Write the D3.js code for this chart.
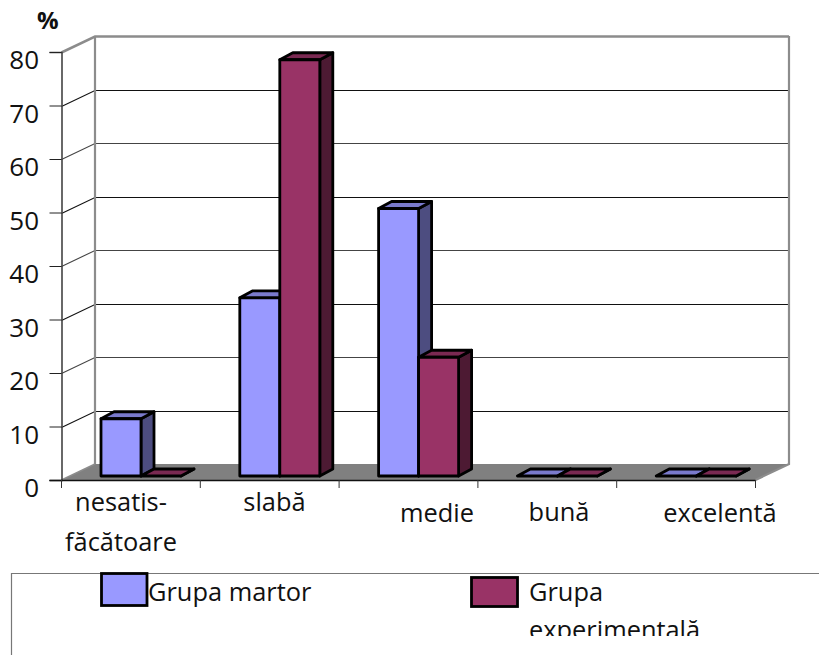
<!DOCTYPE html>
<html><head><meta charset="utf-8">
<script src="https://cdnjs.cloudflare.com/ajax/libs/d3/7.8.5/d3.min.js"></script>
<style>html,body{margin:0;padding:0;background:#fff}svg{display:block}text{font-family:"Open Sans",sans-serif;fill:#111}</style>
</head><body><svg id="c" width="819" height="655"></svg>
<script>
const categories = ["nesatis-|făcătoare","slabă","medie","bună","excelentă"];
const martor = [10.7,33.3,50,0,0];
const experimentala = [0,77.8,22.2,0,0];
const seriesNames = ["Grupa martor","Grupa experimentală"];
const yTicks = [0,10,20,30,40,50,60,70,80];

const svg = d3.select("#c");
const L=61.5,R=755.5,T=52,B=480,DX=33.5,DY=16;
const BW=13,BH=7,BASE=4;
const x = d3.scaleBand().domain(categories).range([L,R]);
const inner = d3.scaleBand().domain([0,1]).range([39.5,119.5]);
const y = d3.scaleLinear().domain([0,80]).range([B,T]);
const colors = [
 {f:"#9999ff",top:"#7a7acc",side:"#4d4d80"},
 {f:"#993366",top:"#7a2952",side:"#4d1a33"}];

// floor
svg.append("path").attr("fill","#808080")
 .attr("d",`M${L},${B}L${L+DX},${B-DY}L${R+DX},${B-DY}L${R},${B}Z`);
// gridlines
yTicks.filter(t=>t>0).forEach(t=>{
  const yy=Math.round(y(t))+.5, top=t===80;
  svg.append("path").attr("fill","none")
   .attr("stroke",top?"#8c8c8c":(t%20===0?"#444":"#111"))
   .attr("stroke-width",top?2.5:1.1)
   .attr("d",`M${L},${yy}L${L+DX},${yy-DY}L${R+DX},${yy-DY}`);
});
// walls
svg.append("path").attr("fill","none").attr("stroke","#8c8c8c").attr("stroke-width",2.2)
 .attr("d",`M${L+DX},${T-DY}V${B-DY}M${R+DX},${T-DY}V${B-DY}L${R},${B}`);
svg.append("path").attr("fill","none").attr("stroke","#8c8c8c").attr("stroke-width",1.4)
 .attr("d",`M${L+DX},${B-DY}L${L},${B}`);
// axes
const yAxis=d3.axisLeft(y).tickValues(yTicks).tickSize(12).tickPadding(4);
const gy=svg.append("g").attr("transform",`translate(${L},0)`).call(yAxis);
gy.select(".domain").attr("stroke","#444").attr("stroke-width",1.6);
gy.selectAll(".tick line").attr("stroke","#222");
gy.selectAll(".tick text").style("font-size","26px").attr("x",-22.5).attr("dy",null)
 .attr("y",16.5).attr("text-anchor","end");
const edges=d3.range(categories.length+1).map(i=>L+i*x.step());
svg.append("line").attr("x1",L-12).attr("x2",R).attr("y1",B+.5).attr("y2",B+.5).attr("stroke","#111").attr("stroke-width",1.3);
svg.selectAll(".xt").data(edges).join("line").attr("x1",d=>d).attr("x2",d=>d)
 .attr("y1",B).attr("y2",B+8).attr("stroke","#333");

// bars
[martor,experimentala].forEach((vals,s)=>{
 const c=colors[s];
 const g=svg.append("g").selectAll("g").data(vals).join("g");
 g.each(function(v,i){
  const X=x(categories[i])+inner(s), W=inner.bandwidth();
  const b=y(0)-BASE, t=y(v)-BASE, n=d3.select(this);
  const st={stroke:"#000","stroke-width":2.8,"stroke-linejoin":"round"};
  const add=(d,f)=>{const p=n.append("path").attr("d",d).attr("fill",f);for(const k in st)p.attr(k,st[k]);};
  add(`M${X+W},${t}L${X+W+BW},${t-BH}V${b-BH}L${X+W},${b}Z`,c.side);
  add(`M${X},${t}L${X+BW},${t-BH}H${X+W+BW}L${X+W},${t}Z`,c.top);
  if(v>0) add(`M${X},${t}H${X+W}V${b}H${X}Z`,c.f);
 });
});

// labels
const fs=25.4;
svg.append("text").text("%").attr("x",37).attr("y",29).style("font-size","24px").style("font-weight","700");
const labelPos=[[121,511,551],[274.5,511],[437,522],[559,521],[720,522]];
categories.forEach((c,i)=>{
 c.split("|").forEach((ln,j)=>{
  svg.append("text").text(ln).attr("x",labelPos[i][0]).attr("y",labelPos[i][j+1])
   .attr("text-anchor","middle").style("font-size",fs+"px");
 });
});

// legend
svg.append("path").attr("fill","none").attr("stroke","#777").attr("stroke-width",1.2)
 .attr("d","M819,573.5H11.5V655");
const defs=svg.append("defs");
defs.append("clipPath").attr("id","lc").append("rect").attr("x",0).attr("y",560).attr("width",819).attr("height",76);
const lg=svg.append("g").attr("clip-path","url(#lc)");
[[101.5,573.5,45.5,32],[471.5,577.5,46,29]].forEach((r,i)=>{
 svg.append("rect").attr("x",r[0]).attr("y",r[1]).attr("width",r[2]).attr("height",r[3])
  .attr("fill",colors[i].f).attr("stroke","#000").attr("stroke-width",2.8);
});
lg.append("text").text(seriesNames[0]).attr("x",148).attr("y",601).style("font-size",fs+"px");
const parts=seriesNames[1].split(" ");
lg.append("text").text(parts[0]).attr("x",529).attr("y",601).style("font-size",fs+"px");
lg.append("text").text(parts[1]).attr("x",529).attr("y",639).style("font-size",fs+"px");
</script></body></html>
